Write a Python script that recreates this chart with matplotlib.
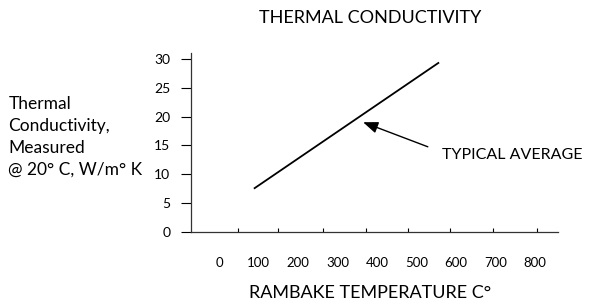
import matplotlib.pyplot as plt

plt.rcParams['font.family'] = ['Lato', 'DejaVu Sans']

# typical average line (temperature C, conductivity W/m K)
line_temp = [90, 555]
line_cond = [7.6, 29.3]

x_labels = [0, 100, 200, 300, 400, 500, 600, 700, 800]
x_marks = [48, 149, 263, 372, 478, 585, 694, 805]
y_ticks = [0, 5, 10, 15, 20, 25, 30]

fig = plt.figure(figsize=(5.91, 3.07), dpi=100)
ax = fig.add_axes([0.3232, 0.2443, 0.621, 0.5844])

ax.plot(line_temp, line_cond, color='black', lw=1.3)

ax.set_xlim(-71, 858)
ax.set_ylim(0, 31.1)

ax.set_xticks(x_labels)
ax.set_xticklabels([str(v) for v in x_labels], fontsize=9.5)
ax.tick_params(axis='x', which='major', length=0, pad=18)
ax.set_xticks(x_marks, minor=True)
ax.tick_params(axis='x', which='minor', direction='in', length=3, width=0.8)

ax.set_yticks(y_ticks)
ax.set_yticklabels([str(v) for v in y_ticks], fontsize=10)
ax.tick_params(axis='y', direction='out', length=7, width=0.8, pad=8)

for s in ['top', 'right']:
    ax.spines[s].set_visible(False)
for s in ['left', 'bottom']:
    ax.spines[s].set_linewidth(0.9)
    ax.spines[s].set_color('#333333')

ax.annotate('', xy=(358, 19.2), xytext=(535, 14.6),
            arrowprops=dict(arrowstyle='-|>,head_length=0.9,head_width=0.35',
                            color='black', lw=1.0))
ax.text(565, 13.3, 'TYPICAL AVERAGE', fontsize=11.5, va='center', ha='left')

fig.text(0.626, 0.94, 'THERMAL CONDUCTIVITY', fontsize=13, ha='center', va='center')
fig.text(0.626, 0.045, 'RAMBAKE TEMPERATURE C°', fontsize=13, ha='center', va='center')
fig.text(0.014, 0.553, 'Thermal\nConductivity,\nMeasured\n@ 20° C, W/m° K',
         fontsize=12.5, ha='left', va='center', linespacing=1.45)

fig.savefig('out.png', dpi=100)
